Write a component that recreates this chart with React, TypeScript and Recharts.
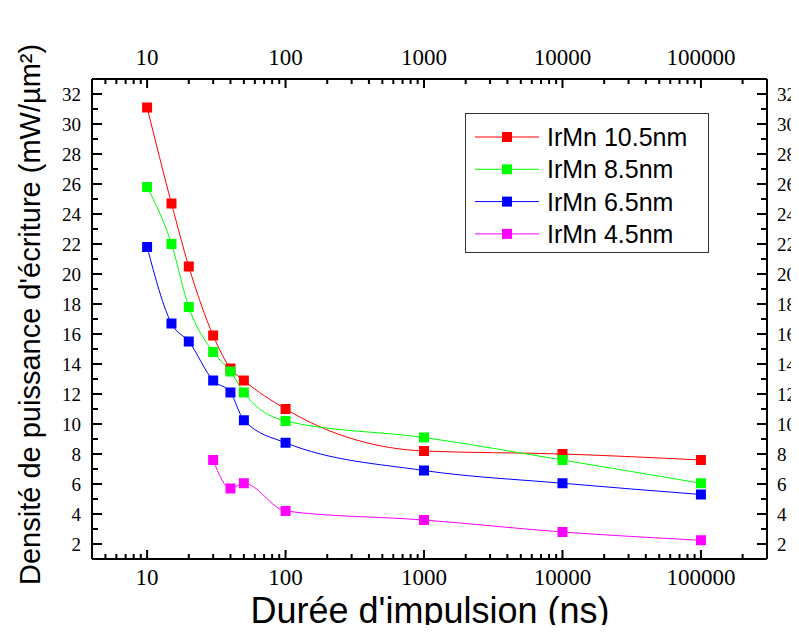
import { LineChart, Line, XAxis, YAxis, Legend } from "recharts";

// pulse durations (ns)
const durations = [10, 15, 20, 30, 40, 50, 100, 1000, 10000, 100000];
// write power density (mW/µm²) per IrMn thickness
const irmn105 = [31.1, 24.7, 20.5, 15.9, 13.7, 12.9, 11.0, 8.2, 8.0, 7.6];
const irmn85 = [25.8, 22.0, 17.8, 14.8, 13.5, 12.1, 10.2, 9.1, 7.6, 6.05];
const irmn65 = [21.8, 16.7, 15.5, 12.9, 12.1, 10.25, 8.75, 6.9, 6.05, 5.3];
const irmn45Durations = [30, 40, 50, 100, 1000, 10000, 100000];
const irmn45 = [7.6, 5.7, 6.05, 4.2, 3.6, 2.8, 2.25];

const series = [
  { key: "r105", name: "IrMn 10.5nm", color: "#ff0000" },
  { key: "r85", name: "IrMn 8.5nm", color: "#00ff00" },
  { key: "r65", name: "IrMn 6.5nm", color: "#0000ff" },
  { key: "r45", name: "IrMn 4.5nm", color: "#ff00ff" },
];

const decadeTicks = [10, 100, 1000, 10000, 100000];
const xDomain = [4, 300000];
const yDomain = [1, 33];

const xTicks: number[] = [];
for (let d = 1; d <= 100000; d *= 10) {
  for (let k = 1; k <= 9; k++) {
    const v = d * k;
    if (v >= xDomain[0] && v <= xDomain[1]) xTicks.push(v);
  }
}
const yTicks: number[] = [];
for (let v = yDomain[0]; v <= yDomain[1]; v++) yTicks.push(v);

const data = durations.map((t, i) => {
  const j = irmn45Durations.indexOf(t);
  return {
    t,
    r105: irmn105[i],
    r85: irmn85[i],
    r65: irmn65[i],
    r45: j >= 0 ? irmn45[j] : null,
  };
});

const serif = "'Liberation Serif', 'Times New Roman', serif";
const sans = "'Liberation Sans', Arial, sans-serif";

function BottomTick({ x, y, payload }: any) {
  const major = decadeTicks.includes(payload.value);
  return (
    <g>
      <line x1={x} x2={x} y1={y} y2={y - (major ? 9 : 5)} stroke="#000" strokeWidth={2} />
      {major && (
        <text x={x} y={y + 26} textAnchor="middle" fontFamily={serif} fontSize={23} fill="#000">
          {payload.value}
        </text>
      )}
    </g>
  );
}

function TopTick({ x, y, payload }: any) {
  const major = decadeTicks.includes(payload.value);
  return (
    <g>
      <line x1={x} x2={x} y1={y} y2={y + (major ? 9 : 5)} stroke="#000" strokeWidth={2} />
      {major && (
        <text x={x} y={y - 14} textAnchor="middle" fontFamily={serif} fontSize={23} fill="#000">
          {payload.value}
        </text>
      )}
    </g>
  );
}

function LeftTick({ x, y, payload }: any) {
  const major = payload.value % 2 === 0;
  return (
    <g>
      <line x1={x} x2={x + (major ? 10 : 6)} y1={y} y2={y} stroke="#000" strokeWidth={2} />
      {major && (
        <text x={x - 11} y={y} dy="0.35em" textAnchor="end" fontFamily={serif} fontSize={19} fill="#000">
          {payload.value}
        </text>
      )}
    </g>
  );
}

function RightTick({ x, y, payload }: any) {
  const major = payload.value % 2 === 0;
  return (
    <g>
      <line x1={x} x2={x - (major ? 10 : 6)} y1={y} y2={y} stroke="#000" strokeWidth={2} />
      {major && (
        <text x={x + 10} y={y} dy="0.35em" textAnchor="start" fontFamily={serif} fontSize={19} fill="#000">
          {payload.value}
        </text>
      )}
    </g>
  );
}

function squareDot(color: string) {
  return (props: any) => {
    const { cx, cy, index } = props;
    if (cx == null || cy == null || props.value == null) return <g key={`d${index}`} />;
    return <rect key={`d${index}`} x={cx - 5} y={cy - 5} width={10} height={10} fill={color} />;
  };
}

function LegendBox({ payload }: any) {
  const order = series.map((s) => s.name);
  const items = (payload || [])
    .filter((e: any) => order.includes(e.value))
    .sort((a: any, b: any) => order.indexOf(a.value) - order.indexOf(b.value));
  return (
    <div style={{ width: 244, height: 140, boxSizing: "border-box", border: "1px solid #333", background: "#fff" }}>
      <svg width={242} height={138} style={{ display: "block" }}>
        {items.map((e: any, i: number) => {
          const cy = 23 + i * 32.3;
          return (
            <g key={e.value}>
              <line x1={9} x2={73} y1={cy} y2={cy} stroke={e.color} strokeWidth={1} />
              <rect x={36} y={cy - 5} width={10} height={10} fill={e.color} />
              <text x={81} y={cy} dy="0.36em" fontFamily={sans} fontSize={25} fill="#000">
                {e.value}
              </text>
            </g>
          );
        })}
      </svg>
    </div>
  );
}

export default function App() {
  return (
    <div style={{ margin: -8, width: 799, height: 633, position: "relative", background: "#fff" }}>
      <LineChart width={799} height={633} data={data} margin={{ top: 0, right: 0, bottom: 0, left: 0 }}>
        <XAxis
          xAxisId="bottom"
          dataKey="t"
          type="number"
          scale="log"
          domain={xDomain}
          allowDataOverflow
          ticks={xTicks}
          interval={0}
          height={74}
          tickSize={0}
          tickMargin={0}
          tick={<BottomTick />}
          axisLine={{ stroke: "#000", strokeWidth: 2 }}
        />
        <XAxis
          xAxisId="top"
          dataKey="t"
          orientation="top"
          type="number"
          scale="log"
          domain={xDomain}
          allowDataOverflow
          ticks={xTicks}
          interval={0}
          height={79}
          tickSize={0}
          tickMargin={0}
          tick={<TopTick />}
          axisLine={{ stroke: "#000", strokeWidth: 2 }}
        />
        <YAxis
          yAxisId="left"
          type="number"
          domain={yDomain}
          allowDataOverflow
          ticks={yTicks}
          interval={0}
          width={92}
          tickSize={0}
          tickMargin={0}
          tick={<LeftTick />}
          axisLine={{ stroke: "#000", strokeWidth: 2 }}
        />
        <YAxis
          yAxisId="right"
          orientation="right"
          type="number"
          domain={yDomain}
          allowDataOverflow
          ticks={yTicks}
          interval={0}
          width={32}
          tickSize={0}
          tickMargin={0}
          tick={<RightTick />}
          axisLine={{ stroke: "#000", strokeWidth: 2 }}
        />
        <Legend
          layout="vertical"
          align="center"
          verticalAlign="middle"
          content={<LegendBox />}
          wrapperStyle={{ left: 465, top: 113, width: 244, height: 140 }}
        />
        {series.map((s) => (
          <Line
            key={s.key}
            xAxisId="bottom"
            yAxisId="left"
            dataKey={s.key}
            name={s.name}
            type="monotone"
            stroke={s.color}
            strokeWidth={1}
            dot={squareDot(s.color)}
            activeDot={false}
            isAnimationActive={false}
          />
        ))}
        {/* invisible series so the top/right frame axes get drawn */}
        <Line
          xAxisId="top"
          yAxisId="right"
          dataKey="r105"
          name="frame"
          stroke="none"
          dot={false}
          activeDot={false}
          legendType="none"
          isAnimationActive={false}
        />
      </LineChart>
      <svg width={799} height={633} style={{ position: "absolute", left: 0, top: 0, pointerEvents: "none" }}>
        <text x={430} y={623} textAnchor="middle" fontFamily={sans} fontSize={36} fill="#000">
          Durée d'impulsion (ns)
        </text>
        <text
          transform="translate(40, 585) rotate(-90)"
          textAnchor="start"
          fontFamily={sans}
          fontSize={29}
          fill="#000"
        >
          Densité de puissance d'écriture (mW/µm²)
        </text>
      </svg>
    </div>
  );
}
